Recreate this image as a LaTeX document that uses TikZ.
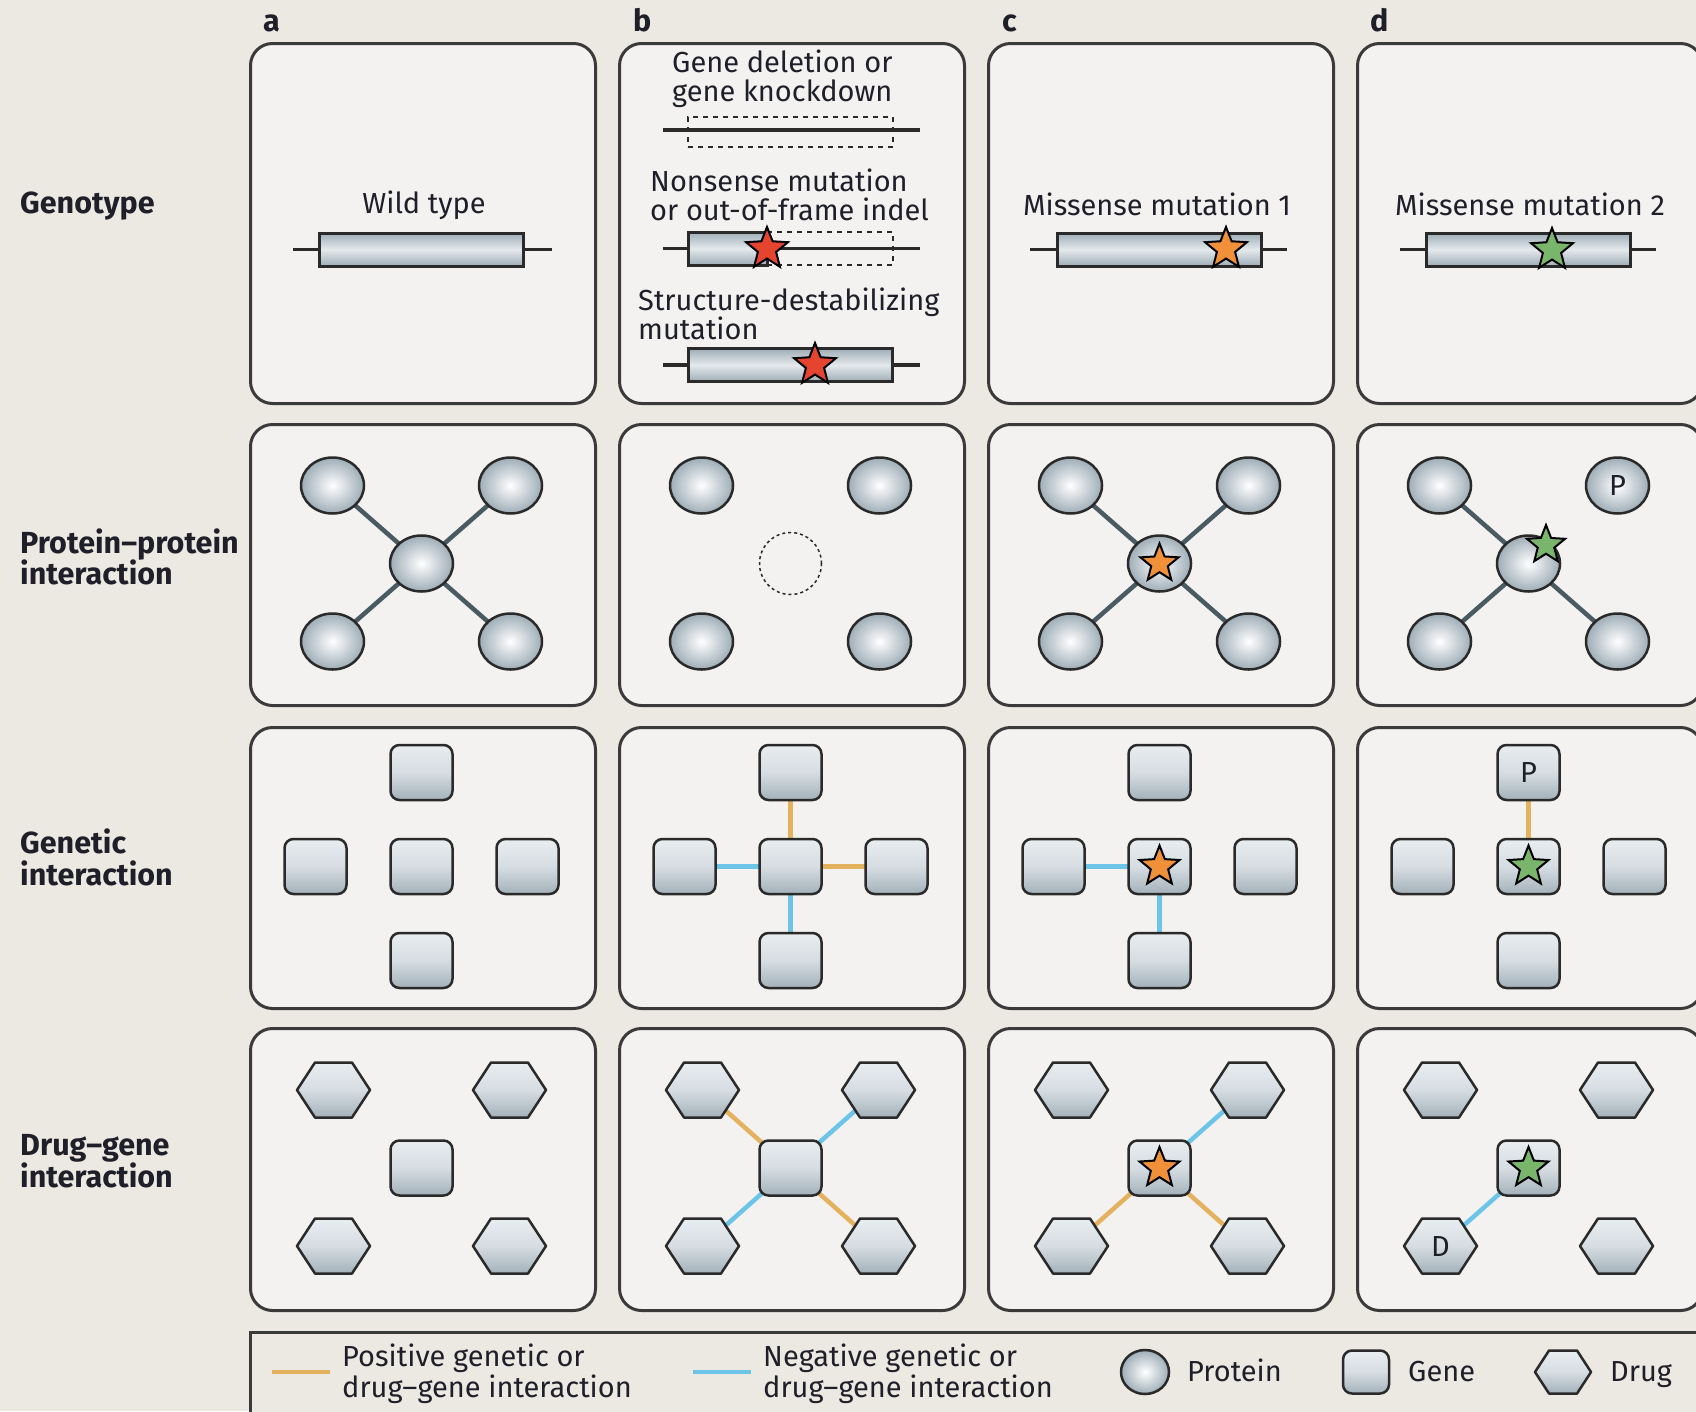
\documentclass[tikz,border=0pt]{standalone}
\usepackage{fontspec}
\setmainfont{Fira Sans}
\usetikzlibrary{shapes.geometric}
\pgfdeclarelayer{panelbg}
\pgfdeclarelayer{links}
\pgfsetlayers{panelbg,links,main}
\definecolor{bg}{HTML}{ECE9E3}
\definecolor{panelfill}{HTML}{F3F2F0}
\definecolor{panelline}{HTML}{3A3A3A}
\definecolor{ink}{HTML}{1F1F2A}
\definecolor{shadeD}{HTML}{9EADB7}
\definecolor{shadeL}{HTML}{E4E9EC}
\definecolor{sqTop}{HTML}{E8EDF0}
\definecolor{sqMid}{HTML}{D6DDE2}
\definecolor{sqBot}{HTML}{A3B1BA}
\definecolor{ppiline}{HTML}{4A5A63}
\definecolor{posline}{HTML}{E4B25E}
\definecolor{negline}{HTML}{6CC4E8}
\definecolor{starred}{HTML}{E5452F}
\definecolor{starorange}{HTML}{F0913A}
\definecolor{stargreen}{HTML}{79B66C}
\definecolor{shapeline}{HTML}{2A2A2A}
% #1 name, #2 x, #3 y, #4 half width, #5 half top edge, #6 half height, #7 label
\newcommand\drughex[7]{%
  \shadedraw[drugshape] (#2,#3) ++(-#4,0) -- ++({#4-#5},-#6) -- ++({2*#5},0)
     -- ++({#4-#5},#6) -- ++({#5-#4},#6) -- ++({-2*#5},0) -- cycle;
  \node[drugbox] (#1) at (#2,#3) {#7};}
\begin{document}
\begin{tikzpicture}[x=1pt,y=-1pt,
  txt/.style={font=\fontsize{29}{31}\selectfont, text=ink, inner sep=0, anchor=base west},
  ctxt/.style={txt, anchor=base},
  btxt/.style={font=\fontsize{30.5}{32}\selectfont\bfseries, text=ink, inner sep=0, anchor=base west},
  panel/.style={draw=panelline, line width=3pt, fill=panelfill, rounded corners=22pt,
    minimum width=345pt, anchor=north west, inner sep=0},
  gene/.style={draw=shapeline, line width=3pt, minimum width=204pt, minimum height=33pt,
    inner sep=0, top color=shadeD, bottom color=shadeD, middle color=shadeL},
  geneline/.style={draw=shapeline, line width=3.5pt},
  dashgene/.style={draw=shapeline, line width=1.6pt, dash pattern=on 5pt off 5pt},
  protein/.style={ellipse, draw=shapeline, line width=2.5pt, minimum width=63pt,
    minimum height=56pt, inner sep=0, inner color=white, outer color=shadeD,
    font=\fontsize{29}{31}\selectfont, text=ink},
  sq/.style={rectangle, rounded corners=9pt, draw=shapeline, line width=2.5pt,
    minimum width=62pt, minimum height=55pt, inner sep=0, top color=sqTop,
    bottom color=sqBot, middle color=sqMid, font=\fontsize{29}{31}\selectfont, text=ink},
  drugshape/.style={draw=shapeline, line width=2.5pt, line join=round, top color=sqTop,
    bottom color=sqBot, middle color=sqMid},
  drugbox/.style={rectangle, minimum width=60pt, minimum height=50pt, inner sep=0,
    font=\fontsize{29}{31}\selectfont, text=ink},
  star5/.style={star, star points=5, star point ratio=2.3, minimum size=44pt,
    inner sep=0, draw=black, line width=2pt},
  ppi/.style={draw=ppiline, line width=4.5pt},
  poslink/.style={draw=posline, line width=4.5pt},
  neglink/.style={draw=negline, line width=4.5pt}]
\useasboundingbox (0,0) rectangle (1696,1411);
\begin{pgfonlayer}{panelbg}
\fill[bg] (0,0) rectangle (1696,1411);
\foreach \c/\x in {a/249,b/618,c/987,d/1356}{
  \node[panel, minimum height=360pt] (\c1) at (\x,42) {};
  \node[panel, minimum height=281pt] (\c2) at (\x,423) {};
  \node[panel, minimum height=281pt] (\c3) at (\x,726) {};
  \node[panel, minimum height=282pt] (\c4) at (\x,1027) {};
}
\node[draw=panelline, line width=3pt, fill=bg, anchor=north west, minimum width=1500pt,
  minimum height=140pt, inner sep=0] (legbox) at (249,1331) {};
\end{pgfonlayer}

% column letters
\node[btxt] (la) at (263,31) {a};
\node[btxt] (lb) at (633,31) {b};
\node[btxt] (lc) at (1002,31) {c};
\node[btxt] (ld) at (1370,31) {d};

% row labels
\node[btxt] (r1) at (20,213) {Genotype};
\node[btxt] (r2a) at (20,553) {Protein–protein};
\node[btxt] (r2b) at (20,584) {interaction};
\node[btxt] (r3a) at (20,853) {Genetic};
\node[btxt] (r3b) at (20,885) {interaction};
\node[btxt] (r4a) at (20,1155) {Drug–gene};
\node[btxt] (r4b) at (20,1187) {interaction};

% ---------- Row 1: genotype ----------
\coordinate (waL) at (293,249.5); \coordinate (waR) at (552,249.5);
\coordinate (b1L) at (663,130); \coordinate (b1R) at (920,130);
\coordinate (b2L) at (663,248.5); \coordinate (b2R) at (920,248.5);
\coordinate (b3L) at (663,365); \coordinate (b3R) at (920,365);
\coordinate (ccL) at (1030,249.5); \coordinate (ccR) at (1287,249.5);
\coordinate (ddL) at (1400,249.5); \coordinate (ddR) at (1656,249.5);
\begin{pgfonlayer}{links}
\draw[geneline] (waL) -- (waR);
\draw[geneline] (b1L) -- (b1R);
\draw[geneline] (b2L) -- (b2R);
\draw[geneline] (b3L) -- (b3R);
\draw[geneline] (ccL) -- (ccR);
\draw[geneline] (ddL) -- (ddR);
\end{pgfonlayer}
% a
\node[ctxt] (watxt) at (424,213) {Wild type};
\node[gene] (wa) at (421.5,249.5) {};
% b
\node[txt] (bt1a) at (672,72) {Gene deletion or};
\node[txt] (bt1b) at (672,101) {gene knockdown};
\node[dashgene, minimum width=205pt, minimum height=30pt, inner sep=0] (bdel) at (790.5,132) {};
\node[txt] (bt2a) at (650,191) {Nonsense mutation};
\node[txt] (bt2b) at (650,220) {or out-of-frame indel};
\node[gene, minimum width=79pt] (bnon) at (727.5,248.5) {};
\draw[dashgene] (767,232) -- (893,232) -- (893,265) -- (767,265);
\node[star5, fill=starred] (bstar2) at (767,249) {};
\node[txt] (bt3a) at (638,310) {Structure-destabilizing};
\node[txt] (bt3b) at (638,339) {mutation};
\node[gene] (bstr) at (790.5,365) {};
\node[star5, fill=starred] (bstar3) at (815,365) {};
% c
\node[ctxt] (ctxt1) at (1157,215) {Missense mutation 1};
\node[gene] (cmis) at (1159.5,249.5) {};
\node[star5, fill=starorange] (cstar1) at (1226,249) {};
% d
\node[ctxt] (dtxt1) at (1530,215) {Missense mutation 2};
\node[gene] (dmis) at (1528.5,249.5) {};
\node[star5, fill=stargreen] (dstar1) at (1552,250) {};

% ---------- Row 2: protein-protein ----------
% a
\node[protein] (a2tl) at (332.5,485.5) {};
\node[protein] (a2tr) at (510.5,485.5) {};
\node[protein] (a2bl) at (332.5,641.5) {};
\node[protein] (a2br) at (510.5,641.5) {};
\node[protein] (a2c) at (421.5,563.5) {};
% b
\node[protein] (b2tl) at (701.5,485.5) {};
\node[protein] (b2tr) at (879.5,485.5) {};
\node[protein] (b2bl) at (701.5,641.5) {};
\node[protein] (b2br) at (879.5,641.5) {};
\node[circle, draw=shapeline, line width=1.5pt, dash pattern=on 3pt off 3pt,
  minimum size=62pt, inner sep=0] (b2c) at (790.5,563.5) {};
% c
\node[protein] (c2tl) at (1070.5,485.5) {};
\node[protein] (c2tr) at (1248.5,485.5) {};
\node[protein] (c2bl) at (1070.5,641.5) {};
\node[protein] (c2br) at (1248.5,641.5) {};
\node[protein] (c2c) at (1159.5,563.5) {};
\node[star5, fill=starorange, minimum size=40pt] (c2star) at (1159.5,563.5) {};
% d
\node[protein] (d2tl) at (1439.5,485.5) {};
\node[protein] (d2tr) at (1617.5,485.5) {P};
\node[protein] (d2bl) at (1439.5,641.5) {};
\node[protein] (d2br) at (1617.5,641.5) {};
\node[protein] (d2c) at (1528.5,563.5) {};
\node[star5, fill=stargreen, minimum size=40pt] (d2star) at (1546,545) {};
\begin{pgfonlayer}{links}
\draw[ppi] (a2tl.center) -- (a2c.center);
\draw[ppi] (a2tr.center) -- (a2c.center);
\draw[ppi] (a2bl.center) -- (a2c.center);
\draw[ppi] (a2br.center) -- (a2c.center);
\draw[ppi] (c2tl.center) -- (c2c.center);
\draw[ppi] (c2tr.center) -- (c2c.center);
\draw[ppi] (c2bl.center) -- (c2c.center);
\draw[ppi] (c2br.center) -- (c2c.center);
\draw[ppi] (d2tl.center) -- (d2c.center);
\draw[ppi] (d2bl.center) -- (d2c.center);
\draw[ppi] (d2br.center) -- (d2c.center);
\end{pgfonlayer}

% ---------- Row 3: genetic interaction ----------
\foreach \p/\cx in {a/421.5,b/790.5,c/1159.5}{
  \node[sq] (\p3t) at (\cx,772.5) {};
  \node[sq] (\p3b) at (\cx,960.5) {};
  \node[sq] (\p3l) at (\cx-106,866.5) {};
  \node[sq] (\p3r) at (\cx+106,866.5) {};
  \node[sq] (\p3c) at (\cx,866.5) {};
}
\node[sq] (d3t) at (1528.5,772.5) {P};
\node[sq] (d3b) at (1528.5,960.5) {};
\node[sq] (d3l) at (1422.5,866.5) {};
\node[sq] (d3r) at (1634.5,866.5) {};
\node[sq] (d3c) at (1528.5,866.5) {};
\node[star5, fill=starorange, minimum size=42pt] (c3star) at (1159.5,866.5) {};
\node[star5, fill=stargreen, minimum size=42pt] (d3star) at (1528.5,866.5) {};
\begin{pgfonlayer}{links}
\draw[poslink] (b3t.center) -- (b3c.center);
\draw[poslink] (b3r.center) -- (b3c.center);
\draw[neglink] (b3l.center) -- (b3c.center);
\draw[neglink] (b3b.center) -- (b3c.center);
\draw[neglink] (c3l.center) -- (c3c.center);
\draw[neglink] (c3b.center) -- (c3c.center);
\draw[poslink] (d3t.center) -- (d3c.center);
\end{pgfonlayer}

% ---------- Row 4: drug-gene ----------
\drughex{a4tl}{333.5}{1090}{36.5}{18.5}{27.5}{}
\drughex{a4tr}{509.5}{1090}{36.5}{18.5}{27.5}{}
\drughex{a4bl}{333.5}{1246}{36.5}{18.5}{27.5}{}
\drughex{a4br}{509.5}{1246}{36.5}{18.5}{27.5}{}
\node[sq] (a4c) at (421.5,1168) {};
\drughex{b4tl}{702.5}{1090}{36.5}{18.5}{27.5}{}
\drughex{b4tr}{878.5}{1090}{36.5}{18.5}{27.5}{}
\drughex{b4bl}{702.5}{1246}{36.5}{18.5}{27.5}{}
\drughex{b4br}{878.5}{1246}{36.5}{18.5}{27.5}{}
\node[sq] (b4c) at (790.5,1168) {};
\drughex{c4tl}{1071.5}{1090}{36.5}{18.5}{27.5}{}
\drughex{c4tr}{1247.5}{1090}{36.5}{18.5}{27.5}{}
\drughex{c4bl}{1071.5}{1246}{36.5}{18.5}{27.5}{}
\drughex{c4br}{1247.5}{1246}{36.5}{18.5}{27.5}{}
\node[sq] (c4c) at (1159.5,1168) {};
\node[star5, fill=starorange, minimum size=42pt] (c4star) at (1159.5,1168) {};
\drughex{d4tl}{1440.5}{1090}{36.5}{18.5}{27.5}{}
\drughex{d4tr}{1616.5}{1090}{36.5}{18.5}{27.5}{}
\drughex{d4bl}{1440.5}{1246}{36.5}{18.5}{27.5}{D}
\drughex{d4br}{1616.5}{1246}{36.5}{18.5}{27.5}{}
\node[sq] (d4c) at (1528.5,1168) {};
\node[star5, fill=stargreen, minimum size=42pt] (d4star) at (1528.5,1168) {};
\begin{pgfonlayer}{links}
\draw[poslink] (b4tl.center) -- (b4c.center);
\draw[neglink] (b4tr.center) -- (b4c.center);
\draw[neglink] (b4bl.center) -- (b4c.center);
\draw[poslink] (b4br.center) -- (b4c.center);
\draw[neglink] (c4tr.center) -- (c4c.center);
\draw[poslink] (c4bl.center) -- (c4c.center);
\draw[poslink] (c4br.center) -- (c4c.center);
\draw[neglink] (d4bl.center) -- (d4c.center);
\end{pgfonlayer}

% ---------- Legend ----------
\coordinate (posL) at (272,1372); \coordinate (posR) at (330,1372);
\coordinate (negL) at (693,1372); \coordinate (negR) at (751,1372);
\draw[poslink, line width=4pt] (posL) -- (posR);
\draw[neglink, line width=4pt] (negL) -- (negR);
\node[txt] (lgp1) at (342,1366) {Positive genetic or};
\node[txt] (lgp2) at (342,1397) {drug–gene interaction};
\node[txt] (lgn1) at (763,1366) {Negative genetic or};
\node[txt] (lgn2) at (763,1397) {drug–gene interaction};
\node[protein, minimum width=48pt, minimum height=44pt] (lgprot) at (1145,1372) {};
\node[txt] (lgprott) at (1187,1381) {Protein};
\node[sq, minimum width=46pt, minimum height=43pt] (lggene) at (1366,1372) {};
\node[txt] (lggenet) at (1408,1381) {Gene};
\drughex{lgdrug}{1563}{1372}{28}{14}{21.5}{}
\node[txt] (lgdrugt) at (1610,1381) {Drug};
\end{tikzpicture}
\end{document}
